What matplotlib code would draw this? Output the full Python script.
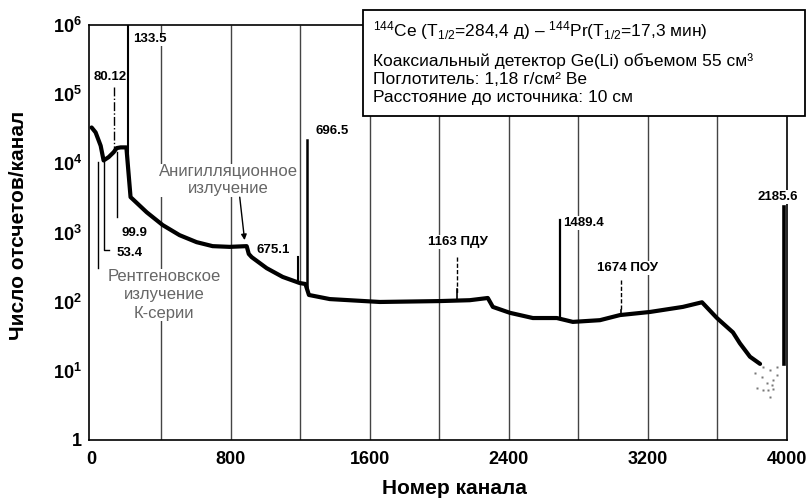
import numpy as np
import matplotlib
matplotlib.use("Agg")
import matplotlib.pyplot as plt
from matplotlib.patches import Rectangle

plt.rcParams["font.family"] = ["Liberation Sans", "DejaVu Sans"]
plt.rcParams["mathtext.fontset"] = "custom"
plt.rcParams["mathtext.rm"] = "Liberation Sans"
plt.rcParams["mathtext.it"] = "Liberation Sans:italic"
plt.rcParams["mathtext.bf"] = "Liberation Sans:bold"

# ---- spectrum data -------------------------------------------------------
# continuum (channel, counts per channel)
cont_channel = [0, 23, 52, 69, 98, 127, 144, 167, 200, 224, 317, 409, 506,
                604, 696, 794, 892, 904, 921, 1007, 1099, 1197, 1230, 1250,
                1370, 1658, 2003, 2175, 2279, 2308, 2406, 2538, 2676, 2768,
                2924, 3039, 3212, 3401, 3511, 3597, 3689, 3729, 3787, 3845]
cont_counts = [33000, 28000, 18000, 11000, 12300, 14500, 16600, 17000, 17000,
               3250, 1960, 1280, 915, 725, 635, 620, 635, 490, 440, 305, 228,
               186, 180, 125, 109, 99, 102, 105, 113, 84, 69, 58, 58, 51, 54,
               64, 71, 84, 98, 58, 36, 25, 16, 12.6]

# sparse low-statistics points at the high-energy end
tail_channel = [3816, 3856, 3902, 3919, 3885, 3914, 3827, 3862, 3891, 3919,
                3902, 3942, 3862, 3942]
tail_counts = [9.3, 8.1, 10.3, 7.4, 6.6, 6.2, 5.6, 5.3, 5.3, 5.5, 4.2, 11.3,
               11.3, 8.7]

# full-energy / escape peaks (channel, peak counts)
peak_channel = [210, 1190, 1237, 2101, 2694, 3043, 3983]
peak_counts = [1.5e6, 440, 22000, 150, 1500, 75, 2300]
peak_labels = ["133.5", "675.1", "696.5", "1163 ПДУ", "1489.4", "1674 ПОУ",
               "2185.6"]

x_ticks = [0, 800, 1600, 2400, 3200, 4000]
x_tick_labels = ["0", "800", "1600", "2400", "3200", "4000"]
y_ticks = [1, 1e1, 1e2, 1e3, 1e4, 1e5, 1e6]
y_tick_labels = ["1", r"$\mathbf{10^{1}}$", r"$\mathbf{10^{2}}$",
                 r"$\mathbf{10^{3}}$", r"$\mathbf{10^{4}}$",
                 r"$\mathbf{10^{5}}$", r"$\mathbf{10^{6}}$"]
grid_channels = [400, 800, 1200, 1600, 2000, 2400, 2800, 3200, 3600]

info_lines = [
    r"$^{144}$Ce (T$_{1/2}$=284,4 д) – $^{144}$Pr(T$_{1/2}$=17,3 мин)",
    "Коаксиальный детектор Ge(Li) объемом 55 см³",
    "Поглотитель: 1,18 г/см² Be",
    "Расстояние до источника: 10 см",
]

# ---- figure ----------------------------------------------------------------
W, H = 808, 503
fig = plt.figure(figsize=(W / 100, H / 100), dpi=100)
ax = fig.add_axes([89 / W, 1 - 440 / H, 698 / W, 415 / H])
ax.set_yscale("log")
ax.set_xlim(-15, 4000)
ax.set_ylim(1, 1e6)

for s in ax.spines.values():
    s.set_linewidth(1.2)
    s.set_color("black")

ax.set_xticks(x_ticks)
ax.set_xticklabels(x_tick_labels, fontsize=13, fontweight="bold")
ax.set_yticks(y_ticks)
ax.set_yticklabels(y_tick_labels, fontsize=13, fontweight="bold")
ax.yaxis.set_minor_locator(matplotlib.ticker.NullLocator())
ax.tick_params(axis="both", length=0)
ax.tick_params(axis="x", pad=8)
ax.tick_params(axis="y", pad=5)

ax.set_ylabel("Число отсчетов/канал", fontsize=15, fontweight="bold")
ax.yaxis.set_label_coords(-0.087, 0.518)
ax.set_xlabel("Номер канала", fontsize=15, fontweight="bold")
ax.xaxis.set_label_coords(0.524, -0.094)

# vertical channel grid
ax.vlines(grid_channels, 1, 1e6, color="#444444", lw=1.0, zorder=1)

# continuum
ax.plot(cont_channel, cont_counts, color="black", lw=3.0,
        solid_joinstyle="round", solid_capstyle="round", zorder=5)
ax.plot(tail_channel, tail_counts, ls="none", marker="s", ms=2.0,
        color="#777777", mec="none", zorder=5)

# peaks rising from the continuum
log_cont = np.log10(cont_counts)
peak_base = 10 ** np.interp(peak_channel, cont_channel, log_cont)
peak_widths = [1.5, 1.5, 1.8, 1.2, 1.6, 1.2, 2.6]
for ch, base, top, w in zip(peak_channel, peak_base, peak_counts, peak_widths):
    ax.plot([ch, ch], [base, top], color="black", lw=w, zorder=5)

box = dict(facecolor="white", edgecolor="none", pad=0.6)
lab = dict(fontsize=9.5, fontweight="bold", zorder=4, bbox=box)

# peak labels
ax.text(236, 6.2e5, peak_labels[0], ha="left", va="center", **lab)
ax.text(1042, 560, peak_labels[1], ha="center", va="center", **lab)
ax.text(1290, 2.9e4, peak_labels[2], ha="left", va="center", **lab)
ax.text(2107, 725, peak_labels[3], ha="center", va="center", **lab)
ax.text(2711, 1380, peak_labels[4], ha="left", va="center", **lab)
ax.text(3085, 308, peak_labels[5], ha="center", va="center", **lab)
ax.text(3948, 3240, peak_labels[6], ha="center", va="center", **lab)

# dashed leaders for the escape peaks
ax.plot([2101, 2101], [10 ** 2.64, 10 ** 2.12], color="black", lw=1.0,
        ls=(0, (3, 1.5)), zorder=4)
ax.plot([3043, 3043], [10 ** 2.31, 10 ** 1.86], color="black", lw=1.0,
        ls=(0, (3, 1.5)), zorder=4)

# X-ray lines of the K series
ax.text(104, 1.8e5, "80.12", ha="center", va="center", **lab)
ax.plot([127, 127], [10 ** 5.10, 10 ** 4.19], color="black", lw=1.0,
        ls="-.", zorder=4)
ax.plot([144, 144], [1.45e4, 1.66e3], color="black", lw=1.0, zorder=4)
ax.text(170, 1000, "99.9", ha="left", va="center", **lab)
ax.plot([69, 69, 100], [10 ** 4.02, 560, 560], color="black", lw=1.0,
        zorder=4)
ax.text(144, 500, "53.4", ha="left", va="center", **lab)
ax.plot([35, 35], [10 ** 4.02, 308], color="black", lw=1.0, zorder=4)

gray = dict(fontsize=12, color="#666666", ha="center", va="center",
            zorder=4, bbox=dict(facecolor="white", edgecolor="none", pad=0.3))
ax.text(415, 125, "Рентгеновское\nизлучение\nК-серии", linespacing=1.3,
        **gray)
ax.text(788, 5700, "Анигилляционное\nизлучение", linespacing=1.2, **gray)
ax.annotate("", xy=(880, 776), xytext=(852, 3240),
            arrowprops=dict(arrowstyle="-|>", lw=1.0, color="black",
                            mutation_scale=8, shrinkA=0, shrinkB=0),
            zorder=4)

# source / detector description box
fig.add_artist(Rectangle((363 / W, 1 - 116 / H), 442 / W, 106 / H,
                         transform=fig.transFigure, facecolor="white",
                         edgecolor="black", lw=1.3, zorder=10))
for txt, base in zip(info_lines, [36, 66, 84, 102]):
    fig.text(373 / W, 1 - base / H, txt, fontsize=12.5, ha="left",
             va="baseline", zorder=11)

fig.savefig("out.png", dpi=100, facecolor="white")
